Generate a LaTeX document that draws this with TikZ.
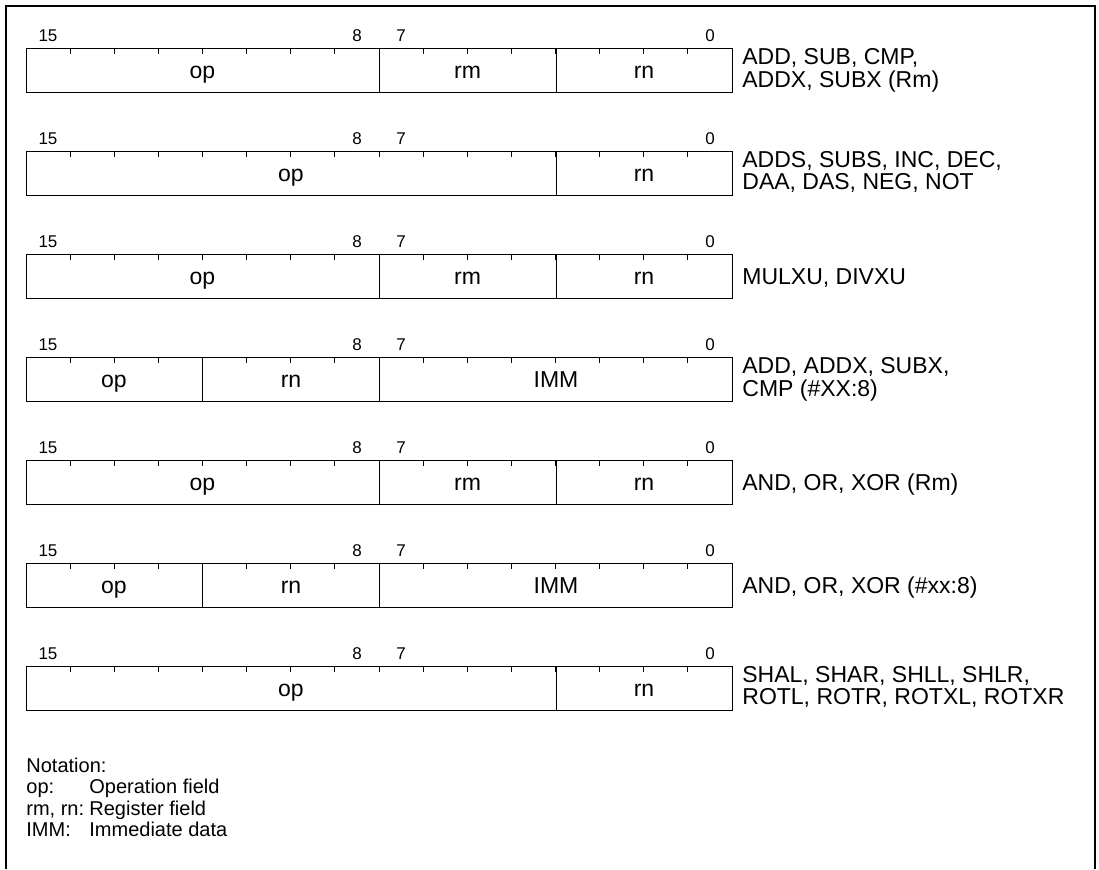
\documentclass[tikz,border=0pt]{standalone}
\usepackage{fontspec}
\setmainfont{Liberation Sans}
\usetikzlibrary{calc}

\tikzset{
	frame/.style={line width=1pt},
	box/.style={line width=0.5pt},
	fld/.style={anchor=base,inner sep=0pt,font=\fontsize{11.5}{11}\selectfont},
	bitno/.style={inner sep=0pt,font=\fontsize{8.5}{10}\selectfont},
	insn/.style={anchor=base west,inner sep=0pt,font=\fontsize{11.5}{11}\selectfont},
	note/.style={anchor=base west,inner sep=0pt,font=\fontsize{10}{10.6}\selectfont},
}

\begin{document}
\begin{tikzpicture}[x=0.5pt,y=-0.5pt]
				\useasboundingbox (0,0) rectangle (1099,869);
				\draw[frame] (6,869)--(6,6)--(1095,6)--(1095,869);

				% every row: frame, bit ticks, bit numbers
				\foreach \r/\t in {1/48,2/151,3/254,4/357,5/460,6/563,7/666}{
					\coordinate(tl\r) at (26,\t);
					\coordinate(br\r) at (732,\t+44);
					\draw[box] (tl\r) rectangle (br\r);
					\foreach \k in {1,...,15}
						\draw[box] (26+\k*44.125,\t)--++(0,6);
					\node[bitno] (b15-\r) at (48,\t-12) {15};
					\node[bitno] (b8-\r) at (357,\t-12) {8};
					\node[bitno] (b7-\r) at (401,\t-12) {7};
					\node[bitno] (b0-\r) at (710,\t-12) {0};
				}

				% op | rm | rn
				\foreach \r/\t in {1/48,3/254,5/460}{
					\draw[box] (379,\t)--(379,\t+44);
					\draw[box] (556,\t)--(556,\t+44);
					\node[fld] (op\r) at (202.5,\t+30) {op};
					\node[fld] (rm\r) at (467.5,\t+30) {rm};
					\node[fld] (rn\r) at (644,\t+30) {rn};
				}

				% op | rn
				\foreach \r/\t in {2/151,7/666}{
					\draw[box] (556,\t)--(556,\t+44);
					\node[fld] (op\r) at (291,\t+30) {op};
					\node[fld] (rn\r) at (644,\t+30) {rn};
				}

				% op | rn | IMM
				\foreach \r/\t in {4/357,6/563}{
					\draw[box] (202.5,\t)--(202.5,\t+44);
					\draw[box] (379,\t)--(379,\t+44);
					\node[fld] (op\r) at (114,\t+30) {op};
					\node[fld] (rn\r) at (291,\t+30) {rn};
					\node[fld] (imm\r) at (556,\t+30) {IMM};
				}

				\node[insn] (ins1) at (742,64) {\begin{tabular}[t]{@{}l@{}}ADD, SUB, CMP,\\ADDX, SUBX (Rm)\end{tabular}};
				\node[insn] (ins2) at (742,167) {\begin{tabular}[t]{@{}l@{}}ADDS, SUBS, INC, DEC,\\DAA, DAS, NEG, NOT\end{tabular}};
				\node[insn] (ins3) at (742,284) {MULXU, DIVXU};
				\node[insn] (ins4) at (742,373) {\begin{tabular}[t]{@{}l@{}}ADD, ADDX, SUBX,\\CMP (\#XX:8)\end{tabular}};
				\node[insn] (ins5) at (742,490) {AND, OR, XOR (Rm)};
				\node[insn] (ins6) at (742,593) {AND, OR, XOR (\#xx:8)};
				\node[insn] (ins7) at (742,682) {\begin{tabular}[t]{@{}l@{}}SHAL, SHAR, SHLL, SHLR,\\ROTL, ROTR, ROTXL, ROTXR\end{tabular}};

				\node[note] (nt) at (26,772) {Notation:};
				\node[note] (nop) at (26,793.5) {op:};
				\node[note] (nreg) at (26,815) {rm, rn:};
				\node[note] (nimm) at (26,836.5) {IMM:};
				\node[note] (dop) at (89,793.5) {Operation field};
				\node[note] (dreg) at (89,815) {Register field};
				\node[note] (dimm) at (89,836.5) {Immediate data};

			\end{tikzpicture}
\end{document}
